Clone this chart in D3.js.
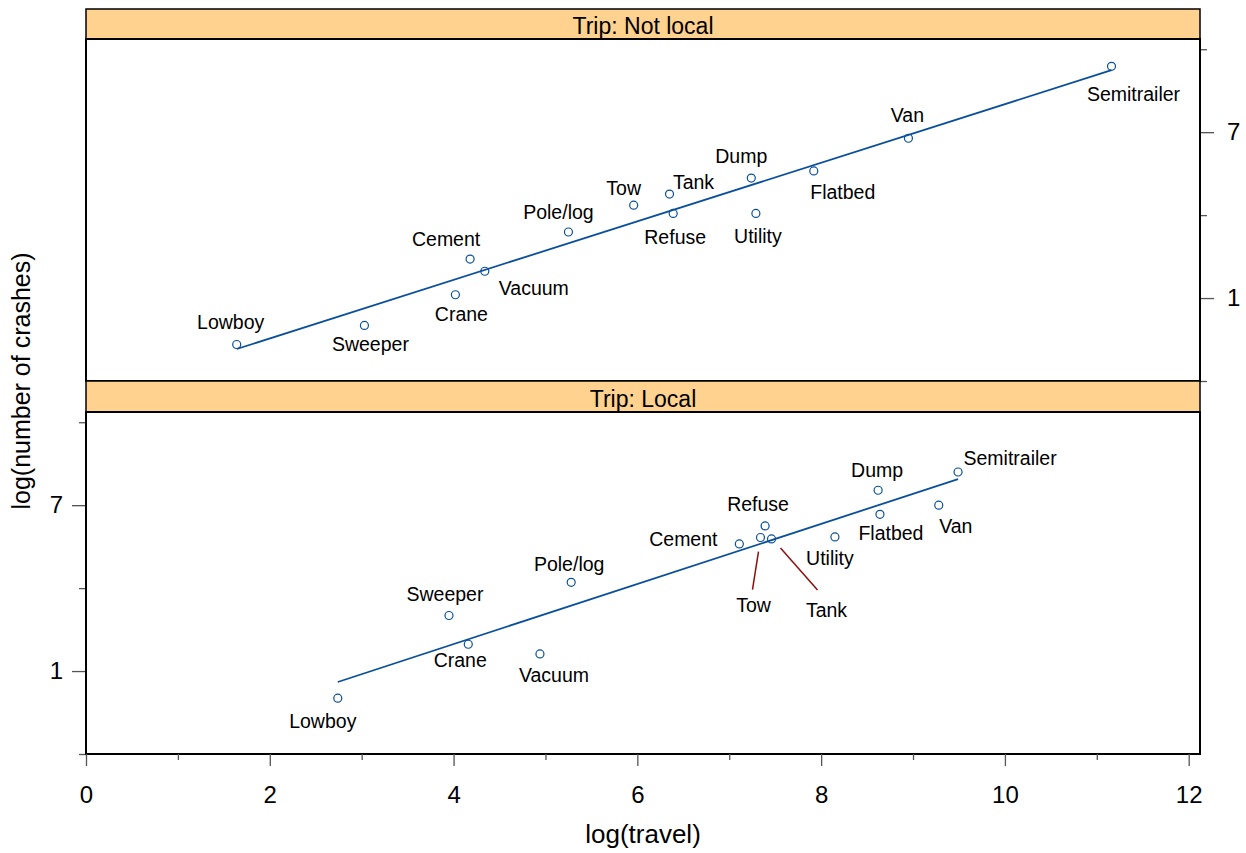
<!DOCTYPE html>
<html>
<head>
<meta charset="utf-8">
<script src="https://cdn.jsdelivr.net/npm/d3@7"></script>
<style>
  body { margin: 0; background: #fff; }
  text { font-family: "Liberation Sans", Arial, Helvetica, sans-serif; fill: #000; }
</style>
</head>
<body>
<svg width="1246" height="853"></svg>
<script>
// truck types, same order in every array
var types = ["Cement", "Crane", "Dump", "Flatbed", "Lowboy", "Pole/log", "Refuse",
             "Semitrailer", "Sweeper", "Tank", "Tow", "Utility", "Vacuum", "Van"];

// Trip: Not local
var notLocalTravel  = [4.18, 4.02, 7.24, 7.92, 1.64, 5.25, 6.39, 11.16, 3.03, 6.35, 5.96, 7.29, 4.34, 8.95];
var notLocalCrashes = [2.41, 1.12, 5.34, 5.60, -0.68, 3.39, 4.06, 9.38, 0.01, 4.76, 4.36, 4.06, 1.97, 6.78];

// Trip: Local
var localTravel  = [7.11, 4.16, 8.62, 8.64, 2.74, 5.28, 7.39, 9.49, 3.95, 7.46, 7.34, 8.15, 4.94, 9.28];
var localCrashes = [5.60, 1.97, 7.54, 6.67, 0.02, 4.21, 6.25, 8.20, 3.01, 5.78, 5.83, 5.85, 1.62, 7.00];

var xTicks = [0, 2, 4, 6, 8, 10, 12];
var xMinor = [1, 3, 5, 7, 9, 11];
var yTicks = [1, 7];
var yMinor = [-2, 4, 10];

// label placement (pixels from point: text centre x, baseline y)
var notLocalLabelPos = {
  "Cement": [-24, -13], "Crane": [6, 26], "Dump": [-10, -15], "Flatbed": [29, 28],
  "Lowboy": [-6, -16], "Pole/log": [-10, -13], "Refuse": [2, 31], "Semitrailer": [22, 35],
  "Sweeper": [6, 26], "Tank": [24, -5], "Tow": [-10, -10], "Utility": [2, 30],
  "Vacuum": [49, 24], "Van": [-1, -16]
};
var localLabelPos = {
  "Cement": [-56, 2], "Crane": [-8, 23], "Dump": [-1, -13], "Flatbed": [11, 26],
  "Lowboy": [-15, 30], "Pole/log": [-2, -11], "Refuse": [-7, -15], "Semitrailer": [52, -7],
  "Sweeper": [-4, -14], "Tank": [55, 78], "Tow": [-7, 74], "Utility": [-5, 28],
  "Vacuum": [14, 28], "Van": [17, 28]
};
// leader lines for crowded labels: [x1, y1, x2, y2] relative to point
var localLeaders = {
  "Tow": [-2, 14, -8, 52],
  "Tank": [9, 9, 46, 51]
};

var svg = d3.select("svg");
var left = 86, right = 1200;
var lineCol = "#0a4f9c";

var x = d3.scaleLinear().domain([0, 12.123]).range([left, right]);

function fit(xs, ys) {
  var mx = d3.mean(xs), my = d3.mean(ys);
  var sxy = d3.sum(xs, (v, i) => (v - mx) * (ys[i] - my));
  var sxx = d3.sum(xs, v => (v - mx) * (v - mx));
  var b = sxy / sxx;
  return { a: my - b * mx, b: b };
}

var panels = [
  { name: "Trip: Not local", stripTop: 9, top: 39, bottom: 381, tx: notLocalTravel, ty: notLocalCrashes,
    labels: notLocalLabelPos, leaders: {}, axisSide: "right" },
  { name: "Trip: Local", stripTop: 381, top: 412, bottom: 754, tx: localTravel, ty: localCrashes,
    labels: localLabelPos, leaders: localLeaders, axisSide: "left" }
];

panels.forEach(function(p) {
  var y = d3.scaleLinear().domain([-2, 10.37]).range([p.bottom, p.top]);
  var g = svg.append("g");
  var onLeft = p.axisSide === "left";

  // strip
  g.append("rect")
    .attr("x", left).attr("y", p.stripTop)
    .attr("width", right - left).attr("height", p.top - p.stripTop)
    .attr("fill", "#ffd28f").attr("stroke", "#000").attr("stroke-width", 1.5);
  g.append("text")
    .attr("x", (left + right) / 2).attr("y", p.top - 5)
    .attr("text-anchor", "middle").style("font-size", "23px")
    .text(p.name);

  // y axis ticks
  var yAxis = onLeft ? d3.axisLeft(y) : d3.axisRight(y);
  var ax = g.append("g")
    .attr("transform", "translate(" + (onLeft ? left : right) + ",0)")
    .call(yAxis.tickValues(yTicks).tickSize(14).tickPadding(onLeft ? 9 : 13).tickFormat(d3.format("d")));
  ax.select(".domain").remove();
  ax.selectAll(".tick line").attr("stroke", "#555").attr("stroke-width", 1.3);
  ax.selectAll(".tick text").style("font-size", "24px").attr("fill", "#000")
    .style("font-family", '"Liberation Sans", Arial, sans-serif');
  var axm = g.append("g")
    .attr("transform", "translate(" + (onLeft ? left : right) + ",0)")
    .call((onLeft ? d3.axisLeft(y) : d3.axisRight(y)).tickValues(yMinor).tickSize(7).tickFormat(""));
  axm.select(".domain").remove();
  axm.selectAll(".tick line").attr("stroke", "#555").attr("stroke-width", 1.3);

  // fitted line
  var f = fit(p.tx, p.ty);
  var ext = d3.extent(p.tx);
  g.append("line")
    .attr("x1", x(ext[0])).attr("y1", y(f.a + f.b * ext[0]))
    .attr("x2", x(ext[1])).attr("y2", y(f.a + f.b * ext[1]))
    .attr("stroke", lineCol).attr("stroke-width", 1.8);

  // points
  g.selectAll("circle.pt")
    .data(types)
    .enter()
    .append("circle")
    .attr("class", "pt")
    .attr("cx", (d, i) => x(p.tx[i]))
    .attr("cy", (d, i) => y(p.ty[i]))
    .attr("r", 4)
    .attr("fill", "none")
    .attr("stroke", lineCol)
    .attr("stroke-width", 1.2);

  // leader lines
  types.forEach(function(t, i) {
    var l = p.leaders[t];
    if (!l) return;
    var cx = x(p.tx[i]), cy = y(p.ty[i]);
    g.append("line")
      .attr("x1", cx + l[0]).attr("y1", cy + l[1])
      .attr("x2", cx + l[2]).attr("y2", cy + l[3])
      .attr("stroke", "#8b1010").attr("stroke-width", 1.5);
  });

  // point labels
  g.selectAll("text.lab")
    .data(types)
    .enter()
    .append("text")
    .attr("class", "lab")
    .attr("x", (d, i) => x(p.tx[i]) + p.labels[d][0])
    .attr("y", (d, i) => y(p.ty[i]) + p.labels[d][1])
    .attr("text-anchor", "middle")
    .style("font-size", "19.5px")
    .text(d => d);

  // panel frame
  g.append("rect")
    .attr("x", left).attr("y", p.top)
    .attr("width", right - left).attr("height", p.bottom - p.top)
    .attr("fill", "none").attr("stroke", "#000").attr("stroke-width", 2);
});

// x axis under bottom panel
var xa = svg.append("g")
  .attr("transform", "translate(0,754)")
  .call(d3.axisBottom(x).tickValues(xTicks).tickSize(12).tickPadding(20).tickFormat(d3.format("d")));
xa.select(".domain").remove();
xa.selectAll(".tick line").attr("stroke", "#555").attr("stroke-width", 1.3);
xa.selectAll(".tick text").style("font-size", "24px").attr("fill", "#000")
  .style("font-family", '"Liberation Sans", Arial, sans-serif');
var xm = svg.append("g")
  .attr("transform", "translate(0,754)")
  .call(d3.axisBottom(x).tickValues(xMinor).tickSize(6).tickFormat(""));
xm.select(".domain").remove();
xm.selectAll(".tick line").attr("stroke", "#555").attr("stroke-width", 1.3);

// axis titles
svg.append("text")
  .attr("x", (left + right) / 2).attr("y", 843)
  .attr("text-anchor", "middle").style("font-size", "26px")
  .text("log(travel)");
svg.append("text")
  .attr("transform", "translate(30,381) rotate(-90)")
  .attr("text-anchor", "middle").style("font-size", "25px")
  .text("log(number of crashes)");
</script>
</body>
</html>
